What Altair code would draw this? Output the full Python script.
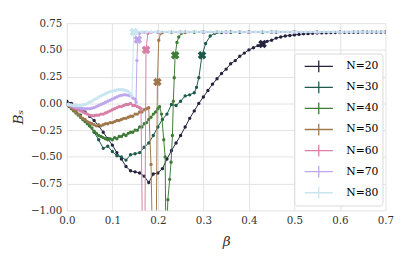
import altair as alt
import pandas as pd

labels = ["N=20", "N=30", "N=40", "N=50", "N=60", "N=70", "N=80"]
colors = ["#25233f", "#1d5a4c", "#3e7c37", "#a0784b", "#d77ea6", "#bea6ec", "#c9e6f0"]

# N=20
b20 = [0.00, 0.01, 0.02, 0.03, 0.04, 0.05, 0.06, 0.07, 0.08, 0.09, 0.10, 0.11, 0.12, 0.13, 0.14,
       0.15, 0.16, 0.17, 0.18, 0.19, 0.20, 0.21, 0.22, 0.23, 0.24, 0.25, 0.26, 0.27, 0.28, 0.29,
       0.30, 0.31, 0.32, 0.33, 0.34, 0.35, 0.36, 0.37, 0.38, 0.39, 0.40, 0.41, 0.42, 0.43, 0.44,
       0.45, 0.46, 0.47, 0.48, 0.49, 0.50, 0.51, 0.52, 0.53, 0.54, 0.55, 0.56, 0.57, 0.58, 0.59,
       0.60, 0.61, 0.62, 0.63, 0.64, 0.65, 0.66, 0.67, 0.68, 0.69, 0.70]
v20 = [0.02, 0.00, -0.02, -0.05, -0.08, -0.12, -0.16, -0.21, -0.27, -0.33, -0.39, -0.46, -0.52, -0.59, -0.63,
       -0.64, -0.65, -0.68, -0.74, -0.66, -0.65, -0.61, -0.52, -0.44, -0.37, -0.30, -0.22, -0.14, -0.07, 0.00,
       0.06, 0.12, 0.18, 0.23, 0.28, 0.32, 0.37, 0.40, 0.44, 0.47, 0.50, 0.52, 0.54, 0.56, 0.58,
       0.59, 0.61, 0.62, 0.63, 0.635, 0.64, 0.645, 0.65, 0.652, 0.655, 0.657, 0.659, 0.66, 0.661, 0.662,
       0.663, 0.664, 0.664, 0.665, 0.665, 0.665, 0.666, 0.666, 0.666, 0.666, 0.666]

# N=30
b30 = [0.00, 0.01, 0.02, 0.03, 0.04, 0.05, 0.06, 0.07, 0.08, 0.09, 0.10, 0.11, 0.12, 0.13, 0.14,
       0.15, 0.16, 0.17, 0.18, 0.19, 0.20, 0.21, 0.22, 0.23, 0.24, 0.25, 0.26, 0.27, 0.28, 0.285,
       0.29, 0.297, 0.305, 0.315, 0.325, 0.34, 0.36, 0.38, 0.40, 0.43, 0.46, 0.50, 0.55, 0.60, 0.65, 0.70]
v30 = [0.00, -0.03, -0.07, -0.11, -0.16, -0.21, -0.27, -0.34, -0.42, -0.40, -0.45, -0.49, -0.50, -0.53, -0.48,
       -0.47, -0.46, -0.41, -0.37, -0.30, -0.22, -0.15, -0.10, -0.01, -0.02, 0.02, 0.07, 0.08, 0.10, 0.15,
       0.24, 0.45, 0.56, 0.63, 0.655, 0.662, 0.665, 0.665, 0.666, 0.666, 0.666, 0.666, 0.666, 0.666, 0.666, 0.666]

# N=40
b40 = [0.000, 0.005, 0.010, 0.015, 0.020, 0.025, 0.030, 0.035, 0.040, 0.045, 0.050, 0.055, 0.060, 0.065,
       0.070, 0.075, 0.080, 0.085, 0.090, 0.095, 0.100, 0.105, 0.110, 0.115, 0.120, 0.125, 0.130, 0.135,
       0.140, 0.145, 0.150, 0.155, 0.160, 0.165, 0.170, 0.175, 0.180, 0.185, 0.190, 0.195, 0.200, 0.204,
       0.208, 0.213, 0.216, 0.218, 0.222, 0.226, 0.229, 0.232, 0.234, 0.236, 0.238, 0.242, 0.246, 0.252,
       0.26, 0.28, 0.30, 0.33, 0.36, 0.40, 0.45, 0.50, 0.55, 0.60, 0.65, 0.70]
v40 = [-0.01, -0.03, -0.05, -0.07, -0.09, -0.11, -0.13, -0.15, -0.17, -0.19, -0.21, -0.23, -0.26, -0.28,
       -0.30, -0.31, -0.32, -0.33, -0.34, -0.33, -0.34, -0.32, -0.33, -0.31, -0.31, -0.29, -0.30, -0.28,
       -0.27, -0.27, -0.25, -0.25, -0.22, -0.22, -0.19, -0.18, -0.15, -0.13, -0.10, -0.08, -0.05, -0.03,
       -0.10, -0.34, -0.50, -1.40, -0.90, -0.71, -0.55, -0.30, 0.02, 0.24, 0.45, 0.57, 0.62, 0.655,
       0.662, 0.665, 0.665, 0.666, 0.666, 0.666, 0.666, 0.666, 0.666, 0.666, 0.666, 0.666]

# N=50
b50 = [0.000, 0.005, 0.010, 0.015, 0.020, 0.025, 0.030, 0.035, 0.040, 0.045, 0.050, 0.055, 0.060, 0.065,
       0.070, 0.075, 0.080, 0.085, 0.090, 0.095, 0.100, 0.105, 0.110, 0.115, 0.120, 0.125, 0.130, 0.135,
       0.140, 0.145, 0.150, 0.155, 0.160, 0.165, 0.170, 0.175, 0.180, 0.185, 0.189, 0.196, 0.199, 0.202,
       0.206, 0.21, 0.23, 0.26, 0.30, 0.35, 0.40, 0.45, 0.50, 0.55, 0.60, 0.65, 0.70]
v50 = [-0.01, -0.02, -0.04, -0.06, -0.08, -0.10, -0.12, -0.14, -0.15, -0.17, -0.18, -0.19, -0.20, -0.21,
       -0.20, -0.21, -0.20, -0.19, -0.19, -0.18, -0.18, -0.17, -0.16, -0.16, -0.15, -0.14, -0.14, -0.13,
       -0.12, -0.12, -0.10, -0.10, -0.08, -0.08, -0.06, -0.05, -0.04, -0.57, -1.50, -1.50, 0.20, 0.59,
       0.655, 0.662, 0.665, 0.665, 0.666, 0.666, 0.666, 0.666, 0.666, 0.666, 0.666, 0.666, 0.666]

# N=60
b60 = [0.000, 0.005, 0.010, 0.015, 0.020, 0.025, 0.030, 0.035, 0.040, 0.045, 0.050, 0.055, 0.060, 0.065,
       0.070, 0.075, 0.080, 0.085, 0.090, 0.095, 0.100, 0.105, 0.110, 0.115, 0.120, 0.125, 0.130, 0.135,
       0.140, 0.145, 0.150, 0.155, 0.160, 0.163, 0.167, 0.171, 0.174, 0.178, 0.185, 0.20, 0.25, 0.30,
       0.35, 0.40, 0.45, 0.50, 0.55, 0.60, 0.65, 0.70]
v60 = [-0.01, -0.02, -0.03, -0.04, -0.05, -0.06, -0.07, -0.08, -0.09, -0.10, -0.11, -0.115, -0.115, -0.11,
       -0.11, -0.10, -0.10, -0.09, -0.08, -0.07, -0.06, -0.05, -0.04, -0.03, -0.03, -0.02, -0.01, -0.01,
       0.00, -0.02, -0.02, -0.03, -0.04, -0.05, -1.60, -1.60, 0.50, 0.655, 0.663, 0.665, 0.666, 0.666,
       0.666, 0.666, 0.666, 0.666, 0.666, 0.666, 0.666, 0.666]

# N=70
b70 = [0.000, 0.005, 0.010, 0.015, 0.020, 0.025, 0.030, 0.035, 0.040, 0.045, 0.050, 0.055, 0.060, 0.065,
       0.070, 0.075, 0.080, 0.085, 0.090, 0.095, 0.100, 0.105, 0.110, 0.115, 0.120, 0.125, 0.130, 0.135,
       0.140, 0.145, 0.150, 0.152, 0.154, 0.156, 0.160, 0.17, 0.20, 0.25, 0.30, 0.35, 0.40, 0.45, 0.50,
       0.55, 0.60, 0.65, 0.70]
v70 = [-0.01, -0.015, -0.02, -0.03, -0.035, -0.04, -0.045, -0.05, -0.05, -0.05, -0.05, -0.045, -0.04, -0.03,
       -0.02, -0.01, 0.00, 0.01, 0.02, 0.03, 0.04, 0.05, 0.06, 0.07, 0.075, 0.08, 0.08, 0.075,
       0.07, 0.05, 0.04, 0.01, 0.40, 0.595, 0.655, 0.664, 0.666, 0.666, 0.666, 0.666, 0.666, 0.666, 0.666,
       0.666, 0.666, 0.666, 0.666]

# N=80
b80 = [0.000, 0.005, 0.010, 0.015, 0.020, 0.025, 0.030, 0.035, 0.040, 0.045, 0.050, 0.055, 0.060, 0.065,
       0.070, 0.075, 0.080, 0.085, 0.090, 0.095, 0.100, 0.105, 0.110, 0.115, 0.120, 0.125, 0.130, 0.135,
       0.140, 0.143, 0.147, 0.155, 0.165, 0.175, 0.185, 0.195, 0.205, 0.215, 0.225, 0.235, 0.245, 0.255,
       0.265, 0.275, 0.285, 0.295, 0.305, 0.315, 0.325, 0.335, 0.345, 0.355, 0.365, 0.375, 0.385, 0.395,
       0.405, 0.415, 0.425, 0.435, 0.445, 0.455, 0.465, 0.475, 0.485, 0.495, 0.505, 0.515, 0.525, 0.535,
       0.545, 0.555, 0.565, 0.575, 0.585, 0.595, 0.605, 0.615, 0.625, 0.635, 0.645, 0.655, 0.665, 0.675,
       0.685, 0.695]
v80 = [-0.01, -0.01, -0.015, -0.02, -0.02, -0.02, -0.02, -0.015, -0.01, 0.00, 0.01, 0.02, 0.035, 0.045,
       0.06, 0.07, 0.08, 0.09, 0.10, 0.11, 0.115, 0.12, 0.125, 0.13, 0.13, 0.125, 0.12, 0.11,
       0.09, 0.07, 0.667, 0.668, 0.667, 0.668, 0.667, 0.668, 0.667, 0.668, 0.667, 0.668, 0.667, 0.668,
       0.667, 0.668, 0.667, 0.668, 0.667, 0.668, 0.667, 0.668, 0.667, 0.668, 0.667, 0.668, 0.667, 0.668,
       0.667, 0.668, 0.667, 0.668, 0.667, 0.668, 0.667, 0.668, 0.667, 0.668, 0.667, 0.668, 0.667, 0.668,
       0.667, 0.668, 0.667, 0.668, 0.667, 0.668, 0.667, 0.668, 0.667, 0.668, 0.667, 0.668, 0.667, 0.668,
       0.667, 0.668]

# Large X markers (crossing points)
mark_beta = [0.430, 0.297, 0.238, 0.199, 0.174, 0.156, 0.147]
mark_val = [0.555, 0.45, 0.45, 0.20, 0.50, 0.595, 0.667]

series = [b20, b30, b40, b50, b60, b70, b80]
values = [v20, v30, v40, v50, v60, v70, v80]

rows = []
for lab, bs, vs in zip(labels, series, values):
    for i, (b, v) in enumerate(zip(bs, vs)):
        rows.append({"N": lab, "beta": b, "B": v, "order": i})
df = pd.DataFrame(rows)
dfx = pd.DataFrame({"N": labels, "beta": mark_beta, "B": mark_val})

FONT = "DejaVu Serif, Liberation Serif, serif"

color_scale = alt.Scale(domain=labels, range=colors)
xs = alt.Scale(domain=[0, 0.7], nice=False)
ys = alt.Scale(domain=[-1.0, 0.75], nice=False)

xax = alt.Axis(values=[0, 0.1, 0.2, 0.3, 0.4, 0.5, 0.6, 0.7], format=".1f", title="β",
               labelOverlap=False, labelFlush=False, labelFont=FONT, labelFontSize=10.5,
               titleFont=FONT, titleFontStyle="italic", titleFontWeight="normal",
               titleFontSize=14, titlePadding=9)
yax = alt.Axis(values=[-1.0, -0.75, -0.5, -0.25, 0.0, 0.25, 0.5, 0.75], format=".2f", title="Bₛ",
               labelOverlap=False, labelFlush=False, labelFont=FONT, labelFontSize=10.5,
               titleFont=FONT, titleFontStyle="italic", titleFontWeight="normal",
               titleFontSize=14, titlePadding=5)

legend = alt.Legend(title=None, orient="none", legendX=232, legendY=31,
                    symbolType="M-1.8,0H1.8M0,-0.75V0.75", symbolSize=256, symbolStrokeWidth=1.3,
                    labelFontSize=11, labelFont=FONT, rowPadding=3.5,
                    padding=4, labelOffset=19, symbolOffset=12,
                    fillColor="white", strokeColor="#d8d8d8", cornerRadius=3)

X = alt.X("beta:Q", scale=xs, axis=xax)
Y = alt.Y("B:Q", scale=ys, axis=yax)

layers = []
for k, lab in enumerate(labels):
    base = alt.Chart(df).transform_filter(alt.datum.N == lab)
    line = base.mark_line(strokeWidth=1.0, clip=True).encode(
        x=X, y=Y,
        color=alt.Color("N:N", scale=color_scale, legend=legend if k == 0 else None),
        order="order:Q",
    )
    pts = base.mark_circle(size=12, opacity=1, clip=True).encode(
        x=X, y=Y,
        color=alt.Color("N:N", scale=color_scale, legend=None),
    )
    xm = alt.Chart(dfx).transform_filter(alt.datum.N == lab).mark_point(
        shape="cross", angle=45, filled=True, size=80, opacity=1, clip=True).encode(
        x=X, y=Y,
        color=alt.Color("N:N", scale=color_scale, legend=None),
    )
    layers += [line, pts, xm]

chart = alt.layer(*layers).properties(
    width=325, height=191,
    autosize=alt.AutoSizeParams(type="none"),
    padding={"left": 60, "top": 13, "right": 22, "bottom": 40},
).configure(font=FONT).configure_view(stroke=None).configure_axis(
    grid=True, gridColor="#e2e2e2", gridWidth=1, domain=False, ticks=False, labelOverlap=False,
    labelFont=FONT, labelFontSize=10.5, labelColor="#333333", labelPadding=5,
    titleFont=FONT, titleColor="#333333",
).configure_legend(labelFont=FONT)

chart.save("out.html", embed_options={"renderer": "svg", "actions": False})
